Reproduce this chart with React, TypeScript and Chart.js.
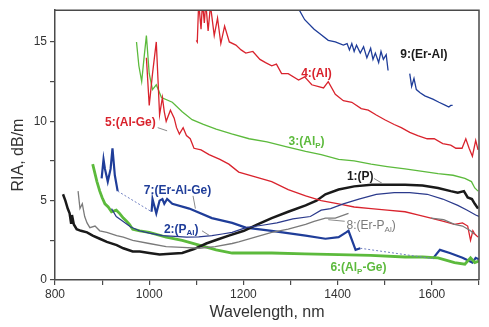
import React, { useEffect, useRef } from "react";
import { Chart, registerables } from "chart.js";

Chart.register(...registerables);

// Axis ranges and ticks
const X_MIN = 800;
const X_MAX = 1700;
const Y_MIN = 0;
const Y_MAX = 17;
const X_LABELLED = [800, 1000, 1200, 1400, 1600];
const Y_LABELLED = [0, 5, 10, 15];

// 1:(P)
const WL_1 = [817, 822, 827, 831, 834, 836, 840, 846, 855, 868, 880, 895, 910, 931, 945, 965, 980, 1000, 1022, 1045, 1070, 1095, 1121, 1145, 1169, 1201, 1230, 1260, 1295, 1332, 1355, 1374, 1402, 1435, 1471, 1500, 1543, 1580, 1613, 1640, 1655, 1668, 1676, 1685, 1691, 1698];
const RIA_1 = [5.4, 5.0, 4.5, 4.2, 3.6, 4.1, 3.5, 3.2, 3.1, 3.0, 2.8, 2.6, 2.4, 2.2, 2.0, 1.8, 1.8, 1.7, 1.6, 1.65, 1.7, 1.95, 2.3, 2.55, 2.8, 3.1, 3.5, 3.9, 4.3, 4.7, 5.0, 5.4, 5.7, 5.9, 6.0, 6.0, 6.0, 5.95, 5.8, 5.6, 5.5, 5.6, 5.2, 5.1, 4.8, 4.5];

// 2:(P_Al)
const WL_2 = [920, 930, 944, 960, 979, 1000, 1028, 1055, 1079, 1105, 1133, 1155, 1176, 1205, 1240, 1271, 1305, 1342, 1365, 1385, 1412, 1445, 1482, 1520, 1553, 1590, 1623, 1655, 1675, 1693, 1700];
const RIA_2 = [4.5, 4.0, 3.7, 3.35, 3.1, 2.95, 2.8, 2.75, 2.7, 2.72, 2.8, 2.9, 3.0, 3.3, 3.45, 3.6, 3.85, 4.0, 4.4, 4.5, 4.8, 5.1, 5.4, 5.5, 5.5, 5.4, 5.1, 4.7, 4.4, 4.1, 4.0];

// 3:(Al_P)
const WL_3 = [973, 978, 984, 989, 994, 1000, 1007, 1015, 1026, 1049, 1070, 1091, 1115, 1142, 1175, 1212, 1250, 1290, 1332, 1365, 1402, 1435, 1471, 1505, 1543, 1580, 1613, 1645, 1670, 1684, 1691, 1698];
const RIA_3 = [15.0, 13.5, 12.5, 14.0, 15.4, 13.0, 12.0, 12.3, 11.5, 11.2, 10.6, 10.1, 9.8, 9.5, 9.2, 8.9, 8.7, 8.4, 8.1, 7.9, 7.6, 7.5, 7.3, 7.15, 7.0, 6.85, 6.7, 6.6, 6.4, 6.2, 5.8, 5.6];

// 4:(Al)
const WL_4 = [1100, 1102, 1105, 1110, 1113, 1117, 1120, 1125, 1130, 1138, 1145, 1152, 1160, 1170, 1184, 1195, 1205, 1220, 1235, 1247, 1260, 1270, 1281, 1295, 1317, 1330, 1345, 1370, 1380, 1395, 1412, 1430, 1450, 1465, 1482, 1500, 1520, 1535, 1553, 1570, 1590, 1605, 1623, 1640, 1651, 1664, 1672, 1679, 1686, 1693, 1698];
const RIA_4 = [15.1, 15.0, 17.5, 15.8, 17.5, 16.2, 17.5, 15.7, 17.3, 15.4, 16.5, 14.9, 16.0, 15.0, 14.8, 14.5, 14.3, 14.4, 13.9, 13.7, 13.5, 13.6, 13.0, 13.0, 12.6, 12.8, 12.3, 12.1, 12.5, 11.7, 11.3, 11.2, 10.8, 10.7, 10.4, 10.1, 9.8, 9.6, 9.3, 9.1, 8.9, 8.9, 8.6, 8.5, 8.3, 8.3, 8.9, 8.3, 7.8, 8.8, 8.2];

// 5:(Al-Ge)
const WL_5 = [994, 1000, 1007, 1015, 1022, 1028, 1032, 1036, 1045, 1053, 1058, 1064, 1072, 1079, 1087, 1095, 1110, 1127, 1150, 1169, 1190, 1225, 1260, 1295, 1332, 1365, 1402, 1435, 1471, 1505, 1543, 1570, 1598, 1625, 1648, 1665, 1676, 1682, 1687, 1691, 1698];
const RIA_5 = [14.0, 11.0, 13.0, 15.0, 10.4, 11.5, 10.6, 10.0, 10.7, 10.2, 9.6, 9.2, 9.6, 9.1, 8.9, 8.3, 8.2, 7.9, 7.6, 7.3, 6.8, 6.5, 6.2, 5.7, 5.3, 5.0, 4.8, 4.6, 4.5, 4.4, 4.3, 4.1, 3.9, 3.7, 3.5, 3.6, 3.4, 2.5, 3.1, 2.9, 2.7];

// 6:(Al_P-Ge)
const WL_6 = [880, 889, 895, 900, 906, 913, 920, 930, 937, 945, 952, 958, 965, 980, 1000, 1036, 1070, 1106, 1142, 1176, 1201, 1260, 1330, 1402, 1470, 1543, 1580, 1613, 1648, 1670, 1682, 1691, 1700];
const RIA_6 = [7.3, 6.2, 5.6, 5.2, 4.8, 4.6, 4.3, 4.4, 4.2, 3.9, 3.7, 3.5, 3.2, 3.1, 3.0, 2.7, 2.5, 2.2, 1.9, 1.7, 1.7, 1.7, 1.65, 1.6, 1.55, 1.45, 1.45, 1.4, 1.1, 1.0, 1.4, 1.1, 1.2];

// 7:(Er-Al-Ge), measured in three pieces with dotted bridges between them
const WL_7 = [899, 903, 906, 912, 918, 922, 927, 933, null, 1005, 1007, 1015, 1022, 1028, 1032, 1038, 1049, 1085, 1133, 1176, 1205, 1260, 1332, 1374, 1402, 1418, 1423, 1438, 1448, null, 1602, 1617, 1638, 1665, 1686, 1693, 1700];
const RIA_7 = [6.4, 7.6, 7.0, 6.2, 7.0, 8.3, 6.6, 5.6, null, 4.3, 5.1, 4.2, 5.0, 5.1, 4.8, 5.1, 4.8, 4.5, 3.9, 3.6, 3.3, 3.1, 2.8, 2.6, 2.7, 3.0, 3.1, 1.9, 2.0, null, 1.35, 1.9, 1.7, 1.4, 1.1, 1.4, 1.3];
const WL_7_BRIDGE = [933, 1005, null, 1448, 1602];
const RIA_7_BRIDGE = [5.6, 4.3, null, 2.0, 1.35];

// 8:(Er-P_Al)
const WL_8 = [849, 853, 858, 863, 868, 874, 885, 895, 910, 931, 945, 965, 1000, 1036, 1070, 1106, 1140, 1176, 1190, 1225, 1260, 1295, 1332, 1350, 1374, 1395, 1423, null, 1598, 1625, 1648, 1665, 1682, 1690];
const RIA_8 = [5.6, 4.5, 4.8, 4.0, 3.6, 3.3, 3.4, 3.1, 3.0, 2.8, 2.7, 2.5, 2.3, 2.1, 2.05, 2.0, 2.1, 2.3, 2.4, 2.7, 3.0, 3.2, 3.5, 3.7, 3.9, 3.9, 4.2, null, 3.9, 3.8, 3.5, 3.4, 3.1, 2.9];

// 9:(Er-Al)
const WL_9 = [1313, 1330, 1350, 1363, 1380, 1395, 1412, 1420, 1425, 1430, 1435, 1440, 1448, 1455, 1462, 1470, 1475, 1480, 1487, 1492, 1497, 1503, 1507, null, 1553, 1557, 1562, 1567, 1575, 1585, 1602, 1615, 1629, 1636, 1640, 1644];
const RIA_9 = [17.3, 16.4, 15.8, 15.5, 15.1, 15.0, 14.8, 14.9, 14.5, 14.9, 14.4, 14.8, 14.3, 14.7, 14.0, 14.6, 13.9, 14.3, 13.7, 14.4, 13.9, 14.2, 13.2, null, 13.0, 12.2, 12.7, 12.0, 11.8, 11.6, 11.4, 11.2, 11.0, 10.9, 11.0, 11.0];

const RED = "#d9232d";
const GREEN = "#5cba3c";
const BLUE = "#1f3d99";
const NAVY = "#2b3a8c";
const BLACK = "#1a1a1a";
const GRAY = "#7a7a7a";
const AXIS = "#4a4a4a";
const FONT = "'Liberation Sans', Arial, sans-serif";

const toPoints = (xs: (number | null)[], ys: (number | null)[]) =>
  xs.map((x, i) => ({ x: x === null ? NaN : x, y: ys[i] }));

type Piece = { text: string; sub?: boolean };
type Tag = { x: number; y: number; color: string; bold: boolean; pieces: Piece[] };

// Curve captions, placed at their centre in data coordinates
const TAGS: Tag[] = [
  { x: 1583, y: 14.2, color: BLACK, bold: true, pieces: [{ text: "9:(Er-Al)" }] },
  { x: 1355, y: 13.0, color: RED, bold: true, pieces: [{ text: "4:(Al)" }] },
  { x: 960, y: 9.9, color: RED, bold: true, pieces: [{ text: "5:(Al-Ge)" }] },
  { x: 1334, y: 8.7, color: GREEN, bold: true, pieces: [{ text: "3:(Al" }, { text: "P", sub: true }, { text: ")" }] },
  { x: 1448, y: 6.5, color: BLACK, bold: true, pieces: [{ text: "1:(P)" }] },
  { x: 1471, y: 3.4, color: GRAY, bold: false, pieces: [{ text: "8:(Er-P" }, { text: "Al", sub: true }, { text: ")" }] },
  { x: 1060, y: 5.6, color: BLUE, bold: true, pieces: [{ text: "7:(Er-Al-Ge)" }] },
  { x: 1068, y: 3.2, color: BLUE, bold: true, pieces: [{ text: "2:(P" }, { text: "Al", sub: true }, { text: ")" }] },
  { x: 1444, y: 0.8, color: GREEN, bold: true, pieces: [{ text: "6:(Al" }, { text: "P", sub: true }, { text: "-Ge)" }] },
];

// Short pointer strokes from captions to their curves: [x1, y1, x2, y2]
const LEADERS: number[][] = [
  [1018, 9.6, 1038, 9.4],
  [1477, 6.4, 1494, 6.1],
  [1093, 5.3, 1098, 4.5],
  [1112, 3.1, 1128, 2.8],
  [1415, 3.7, 1380, 3.8],
];

const captions = {
  id: "captions",
  afterDatasetsDraw(chart: any) {
    const { ctx, scales } = chart;
    const xs = scales.x;
    const ys = scales.y;
    ctx.save();
    ctx.strokeStyle = "#8a8a8a";
    ctx.lineWidth = 1;
    for (const [x1, y1, x2, y2] of LEADERS) {
      ctx.beginPath();
      ctx.moveTo(xs.getPixelForValue(x1), ys.getPixelForValue(y1));
      ctx.lineTo(xs.getPixelForValue(x2), ys.getPixelForValue(y2));
      ctx.stroke();
    }
    ctx.textBaseline = "middle";
    ctx.textAlign = "left";
    for (const tag of TAGS) {
      const weight = tag.bold ? "bold " : "";
      const mainFont = `${weight}12px ${FONT}`;
      const subFont = `${weight}8px ${FONT}`;
      let width = 0;
      for (const p of tag.pieces) {
        ctx.font = p.sub ? subFont : mainFont;
        width += ctx.measureText(p.text).width;
      }
      let cx = xs.getPixelForValue(tag.x) - width / 2;
      const cy = ys.getPixelForValue(tag.y);
      ctx.fillStyle = tag.color;
      for (const p of tag.pieces) {
        ctx.font = p.sub ? subFont : mainFont;
        ctx.fillText(p.text, cx, p.sub ? cy + 4 : cy);
        cx += ctx.measureText(p.text).width;
      }
    }
    ctx.restore();
  },
};

// Closes the plot box on the top and right, and writes the vertical axis title
const frame = {
  id: "frame",
  afterDraw(chart: any) {
    const { ctx, chartArea } = chart;
    const { left, top, right, bottom } = chartArea;
    ctx.save();
    ctx.strokeStyle = AXIS;
    ctx.lineWidth = 1.5;
    ctx.beginPath();
    ctx.moveTo(left, top);
    ctx.lineTo(right, top);
    ctx.lineTo(right, bottom);
    ctx.stroke();
    ctx.translate(19, 155);
    ctx.rotate(-Math.PI / 2);
    ctx.fillStyle = "#333";
    ctx.font = `16px ${FONT}`;
    ctx.textAlign = "center";
    ctx.textBaseline = "middle";
    ctx.fillText("RIA, dB/m", 0, 0);
    ctx.restore();
  },
};

function line(label: string, xs: (number | null)[], ys: (number | null)[], color: string, width: number, dash?: number[]) {
  return {
    label,
    data: toPoints(xs, ys),
    borderColor: color,
    backgroundColor: color,
    borderWidth: width,
    borderDash: dash || [],
    pointRadius: 0,
    tension: 0,
    spanGaps: false,
    fill: false,
  };
}

export default function App() {
  const ref = useRef<HTMLCanvasElement | null>(null);

  useEffect(() => {
    if (!ref.current) return;
    const chart = new Chart(ref.current, {
      type: "line",
      data: {
        datasets: [
          line("8:(Er-P_Al)", WL_8, RIA_8, GRAY, 1.3),
          line("2:(P_Al)", WL_2, RIA_2, NAVY, 1.2),
          line("4:(Al)", WL_4, RIA_4, RED, 1.3),
          line("5:(Al-Ge)", WL_5, RIA_5, RED, 1.3),
          line("3:(Al_P)", WL_3, RIA_3, GREEN, 1.3),
          line("9:(Er-Al)", WL_9, RIA_9, BLUE, 1.3),
          line("7 bridge", WL_7_BRIDGE, RIA_7_BRIDGE, "#6f7fc0", 1, [2, 2]),
          line("1:(P)", WL_1, RIA_1, BLACK, 2.5),
          line("6:(Al_P-Ge)", WL_6, RIA_6, GREEN, 2.8),
          line("7:(Er-Al-Ge)", WL_7, RIA_7, BLUE, 2.2),
        ] as any,
      },
      options: {
        responsive: false,
        animation: false,
        parsing: true,
        layout: { padding: { top: 6, right: 10, left: 0, bottom: 0 } },
        plugins: { legend: { display: false }, tooltip: { enabled: false } },
        scales: {
          x: {
            type: "linear",
            min: X_MIN,
            max: X_MAX,
            afterFit: (s: any) => {
              s.height = 47;
            },
            ticks: {
              stepSize: 100,
              autoSkip: false,
              maxRotation: 0,
              includeBounds: false,
              color: "#333",
              font: { family: FONT, size: 12 },
              padding: 2,
              callback: (v: any) => (X_LABELLED.includes(Number(v)) ? String(v) : ""),
            },
            grid: { drawOnChartArea: false, drawTicks: true, tickLength: 5, color: AXIS, lineWidth: 1.2 },
            border: { display: true, color: AXIS, width: 1.5 },
            title: {
              display: true,
              text: "Wavelength, nm",
              color: "#333",
              font: { family: FONT, size: 16 },
              padding: { top: 0, bottom: 5 },
            },
          },
          y: {
            type: "linear",
            min: Y_MIN,
            max: Y_MAX,
            afterFit: (s: any) => {
              s.width = 55;
            },
            ticks: {
              stepSize: 2.5,
              autoSkip: false,
              includeBounds: false,
              color: "#333",
              font: { family: FONT, size: 12 },
              padding: 3,
              callback: (v: any) => (Y_LABELLED.includes(Number(v)) ? String(v) : ""),
            },
            grid: { drawOnChartArea: false, drawTicks: true, tickLength: 5, color: AXIS, lineWidth: 1.2 },
            border: { display: true, color: AXIS, width: 1.5 },
          },
        },
      },
      plugins: [captions, frame],
    });
    return () => chart.destroy();
  }, []);

  return (
    <div style={{ position: "absolute", left: 0, top: 0, width: 489, height: 327, background: "#fff" }}>
      <canvas ref={ref} width={489} height={327} />
    </div>
  );
}
